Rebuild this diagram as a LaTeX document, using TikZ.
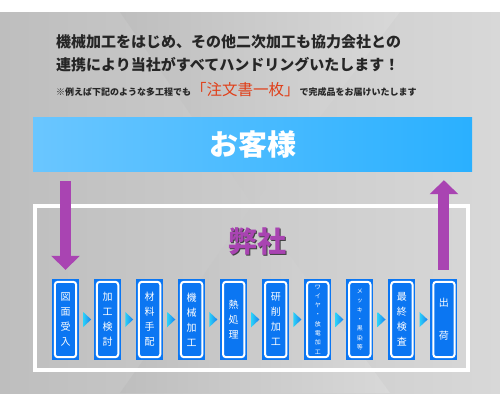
\documentclass[tikz,border=0pt]{standalone}
\usepackage{fontspec}
\setmainfont{Noto Sans CJK JP}
\usepackage{xcolor}
\usetikzlibrary{calc,arrows.meta}

\definecolor{bgl}{HTML}{BEBEBE}
\definecolor{bgm}{HTML}{CFCFCF}
\definecolor{bgr}{HTML}{D8D8D8}
\definecolor{bgdark}{HTML}{828282}
\definecolor{barl}{HTML}{6AC6FF}
\definecolor{barm}{HTML}{0A8EEE}
\definecolor{barr}{HTML}{2AB0FF}
\definecolor{boxblue}{HTML}{0B76F2}
\definecolor{arrowpurple}{HTML}{A944B2}
\definecolor{textdark}{HTML}{262626}
\definecolor{ordred}{HTML}{E0401A}
\definecolor{triL}{HTML}{2BD0F8}
\definecolor{triR}{HTML}{1A7FF0}

\begin{document}
\begin{tikzpicture}[x=1pt,y=-1pt,
    stepbox/.style={fill=boxblue, minimum width=27pt, minimum height=81pt, inner sep=0pt,
      text=white, align=center, font=\fontsize{10}{15}\selectfont},
    stepsmall/.style={stepbox, font=\fontsize{6}{9.3}\selectfont},
    bigarrow/.style={arrowpurple, line width=11pt, -{Triangle[width=28pt,length=14pt]}},
    txt/.style={anchor=west, text=textdark, inner sep=0pt}]
  \useasboundingbox (0,0) rectangle (500,400);
  \fill[white] (0,0) rectangle (500,400);
  % metal background
  \shade[left color=bgl, middle color=bgm, right color=bgr] (0,12) rectangle (500,393);
  \shade[left color=bgl, middle color=bgdark, right color=bgr] (253,205) -- (120,12) -- (400,12) -- cycle;
  \shade[left color=bgl, middle color=bgdark, right color=bgr] (253,205) -- (120,393) -- (390,393) -- cycle;

  % heading text
  \node[txt, font=\bfseries\fontsize{15}{15}\selectfont] (line1) at (56,42) {機械加工をはじめ、その他二次加工も協力会社との};
  \node[txt, font=\bfseries\fontsize{15}{15}\selectfont] (line2) at (56,65) {連携により当社がすべてハンドリングいたします！};
  \node[txt, font=\bfseries\fontsize{9}{9}\selectfont] (line3) at (56,90)
    {※例えば下記のような多工程でも{\color{ordred}\mdseries\fontsize{15.5}{15.5}\selectfont 「注文書一枚」}で完成品をお届けいたします};

  % customer bar
  \node[left color=barl, middle color=barm, right color=barr, minimum width=439pt, minimum height=54pt,
    inner sep=0pt, text=white, font=\bfseries\fontsize{29}{29}\selectfont] (kyaku) at (252.5,144) {お客様};

  % company frame
  \node[draw=white, line width=4pt, minimum width=433pt, minimum height=164pt, inner sep=0pt] (frame) at (251.5,288) {};
  \node[text=black!75, font=\bfseries\fontsize{29}{29}\selectfont] (heishashadow) at (258.5,242.5) {弊社};
  \node[text=arrowpurple, font=\bfseries\fontsize{29}{29}\selectfont] (heisha) at (257,241) {弊社};

  % process steps
  \foreach \t/\s [count=\i] in {{図\\面\\受\\入}/stepbox,{加\\工\\検\\討}/stepbox,{材\\料\\手\\配}/stepbox,
      {機\\械\\加\\工}/stepbox,{熱\\処\\理}/stepbox,{研\\削\\加\\工}/stepbox,
      {ワ\\イ\\ヤ\\・\\放\\電\\加\\工}/stepsmall,{メ\\ッ\\キ\\・\\黒\\染\\等}/stepsmall,
      {最\\終\\検\\査}/stepbox,{出\\[18pt]荷}/stepbox} {
    \node[\s] (b\i) at ({65.5+42.05*(\i-1)},319.5) {\t};
    \draw[white, line width=2pt, rounded corners=3pt] ($(b\i.north west)+(3,3)$) rectangle ($(b\i.south east)+(-3,-3)$);
  }
  \foreach \i in {1,...,9}
    \shade[left color=triL, right color=triR] ($(b\i.east)+(4,-7.5)$) -- ($(b\i.east)+(12,0)$) -- ($(b\i.east)+(4,7.5)$) -- cycle;

  % in and out
  \draw[bigarrow] ($(kyaku.south -| b1)+(0,10)$) -- ($(b1.north)+(0,-9)$);
  \draw[bigarrow] ($(b10.north)+(0,-9)$) -- ($(kyaku.south -| b10)+(0,9)$);
\end{tikzpicture}
\end{document}
